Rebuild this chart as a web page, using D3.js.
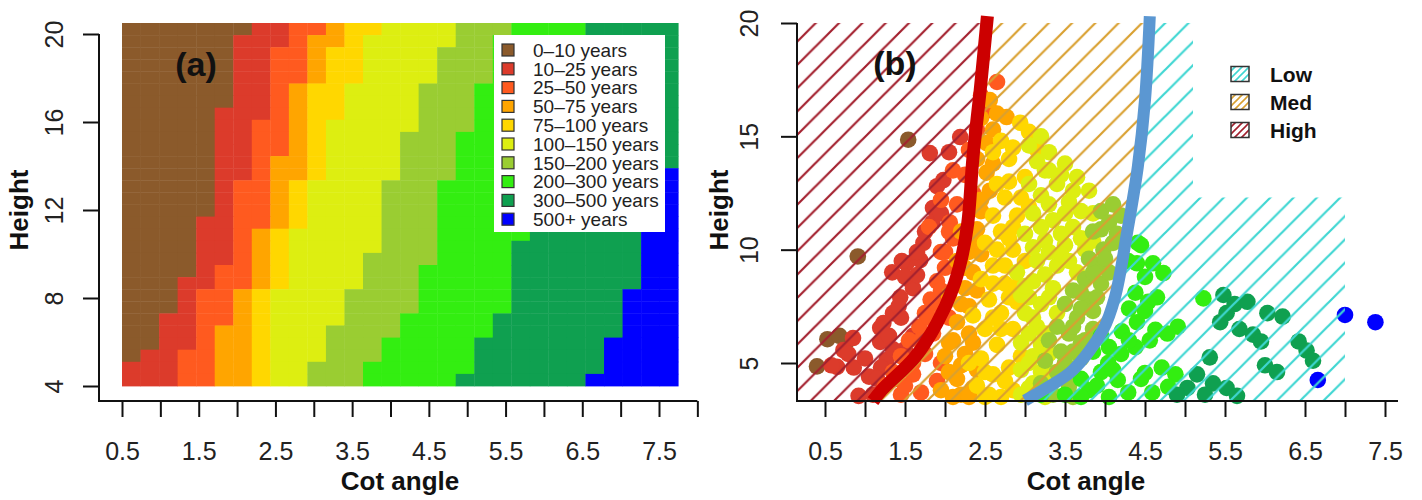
<!DOCTYPE html>
<html><head><meta charset="utf-8">
<script src="https://cdn.jsdelivr.net/npm/d3@7"></script>
<style>
body{margin:0;background:#fff}
text{font-family:"Liberation Sans",Arial,Helvetica,sans-serif}
</style>
</head><body>
<svg id="chart" width="1422" height="500"></svg>
<script>
// ---------- DATA ----------
const categories = ["0\u201310 years","10\u201325 years","25\u201350 years","50\u201375 years","75\u2013100 years",
  "100\u2013150 years","150\u2013200 years","200\u2013300 years","300\u2013500 years","500+ years"];
const catColors = ["#8B5A2B","#DC3B2B","#FF5A1F","#FFA500","#FFD700","#DDEE11","#9ACD32","#33EE11","#0FA050","#0000FF"];

// panel (a): raster 30 x 30 cells, cot 0.5-7.75, height 4-20.5
const rasterCot = [0.5, 7.75];
const rasterHeight = [4, 20.5];
// column index where the next age class begins, for each row (top row first)
const end0to10   = [7,6,6,6,6,6,6,5,5,5,5,5,5,5,5,5,4,4,4,4,4,3,3,3,2,2,2,1,0,0];
const end10to25  = [9,9,8,8,8,8,8,8,7,7,7,7,7,6,6,6,6,6,6,6,5,5,4,4,4,4,4,3,3,3];
const end25to50  = [11,10,10,10,10,9,9,9,9,9,9,8,8,8,8,8,8,7,7,7,7,7,6,6,6,5,5,5,5,5];
const end50to75  = [12,12,11,11,11,10,10,10,10,10,10,10,10,9,9,9,9,8,8,8,8,8,7,7,7,7,7,7,7,7];
const end75to100 = [14,13,13,13,13,12,12,12,11,11,11,11,11,10,10,10,10,9,9,9,9,9,8,8,8,8,8,8,8,8];
const end100to150= [18,18,17,17,17,16,16,16,16,15,15,15,15,14,14,14,14,14,14,13,13,13,12,12,12,11,11,11,10,10];
const end150to200= [21,20,20,20,20,19,19,19,19,18,18,18,18,17,17,17,17,17,17,17,16,16,16,16,15,15,14,14,13,13];
const end200to300= [25,25,25,24,24,24,24,24,23,23,23,23,23,22,22,22,22,22,21,21,21,21,21,21,20,20,19,19,19,18];
const end300to500= [30,30,30,30,30,30,30,30,30,30,30,30,28,28,28,28,28,28,28,28,28,28,27,27,27,27,26,26,26,25];

const xTicksA = [0.5,1,1.5,2,2.5,3,3.5,4,4.5,5,5.5,6,6.5,7,7.5,8];
const xTicksB = [0.5,1,1.5,2,2.5,3,3.5,4,4.5,5,5.5,6,6.5,7,7.5];
const xLabels = [0.5,1.5,2.5,3.5,4.5,5.5,6.5,7.5];
const yTicksA = [4,8,12,16,20];
const yTicksB = [5,10,15,20];

// panel (b): observed points [cot, height] per age class
const pts0 = [[0.91,9.7],[1.54,14.85],[0.53,6.05],[0.68,6.2],[0.76,5.9],[0.4,4.85]];
const pts1 = [[1.81,14.26],[1.98,13.07],[2.19,14.97],[1.85,11.84],[1.84,11.18],[1.73,10.3],[1.52,9.4],[1.34,9.0],[1.46,9.5],[1.56,8.66],[1.6,8.3],[1.69,9.54],[1.65,8.88],[1.44,7.9],[1.35,7.2],[1.42,7.5],[1.23,6.76],[1.19,6.55],[1.19,5.93],[1.27,5.13],[0.85,6.1],[0.73,5.57],[0.79,5.4],[0.65,4.83],[0.86,4.8],[0.58,4.9],[0.92,3.55],[1.05,4.4],[1.1,3.6],[1.6,6.2],[1.5,5.6],[1.0,5.2],[1.38,4.3],
  [1.5,8.8],[1.45,7.0],[1.3,6.2],[1.35,5.6],[1.2,4.8],[1.15,4.3],[1.65,9.9],[1.75,10.8],[1.9,12.8],[1.95,11.6],[2.05,14.3]];
const pts2 = [[2.65,17.4],[2.56,16.16],[2.45,16.8],[2.4,15.3],[2.3,14.4],[2.25,13.3],[2.35,12.5],[2.15,12.0],[2.06,11.2],[2.1,10.5],[1.95,9.9],[2.0,9.2],[1.9,8.6],[1.82,7.8],[1.75,7.2],[1.68,6.6],[1.55,6.0],[1.45,5.3],[1.35,4.6],[1.25,4.0],[1.6,4.5],[1.75,5.4],[1.85,6.3],[1.45,3.6],[1.7,3.7],[1.95,5.0],[2.05,7.0],[1.9,4.2],[1.8,11.0],[1.95,12.2],
  [1.5,4.0],[1.6,5.0],[1.7,6.0],[1.8,7.0],[1.9,7.6],[1.95,8.2],[2.0,9.9],[2.05,10.8],[2.1,13.5]];
const pts3 = [[2.56,16.6],[2.77,15.85],[2.6,15.3],[2.52,14.7],[2.4,14.0],[2.52,13.4],[2.56,12.6],[2.45,11.7],[2.4,10.9],[2.3,9.9],[2.35,9.0],[2.25,8.3],[2.05,8.0],[2.2,7.6],[2.15,6.8],[2.1,6.0],[2.3,6.3],[2.25,5.4],[2.0,5.3],[2.05,4.6],[2.15,4.3],[1.95,3.8],[2.2,3.6],[2.35,3.9],[2.4,4.7],[2.2,10.8],[2.15,9.5],
  [2.1,3.5],[2.3,3.5],[2.05,5.9],[2.2,4.9],[2.35,5.9],[2.3,7.5],[2.4,8.2],[2.25,9.2],[2.45,9.8],[2.35,10.4],[2.45,12.2],[2.6,13.8],[2.45,15.8],[2.65,16.0]];
const pts4 = [[2.94,15.6],[2.7,14.8],[3.15,14.4],[2.8,14.0],[3.0,13.2],[2.65,12.9],[2.75,12.3],[2.9,11.5],[2.7,10.8],[2.5,10.3],[2.85,10.0],[2.6,9.3],[2.45,8.7],[2.75,8.5],[2.55,7.8],[2.7,7.2],[2.35,7.1],[2.5,6.5],[2.85,6.5],[2.65,5.8],[2.45,5.2],[2.3,5.0],[2.8,4.8],[2.6,4.5],[2.4,4.0],[2.55,3.6],[2.85,3.8],[2.6,11.5],[2.95,12.3],[3.0,9.5],[2.9,7.7],
  [2.5,3.5],[2.7,3.5],[2.75,4.2],[2.5,4.6],[2.95,5.3],[2.7,6.5],[2.6,7.0],[2.8,7.9],[2.6,8.5],[2.9,8.4],[2.75,9.3],[2.65,10.0],[2.8,10.5],[2.85,11.0],[3.05,11.9],[2.8,13.0],[2.85,14.5],[3.05,15.2],[2.6,14.3]];
const pts5 = [[3.3,14.3],[3.05,14.6],[3.5,13.8],[3.65,13.2],[3.4,12.9],[3.2,12.4],[3.8,12.6],[3.55,12.1],[3.85,11.6],[3.1,11.6],[3.35,11.3],[3.6,11.0],[3.0,10.7],[3.25,10.4],[3.5,10.2],[3.75,10.0],[3.15,9.5],[3.4,9.3],[3.65,9.0],[2.9,9.0],[3.1,8.6],[3.35,8.3],[2.95,8.0],[3.2,7.6],[3.0,7.2],[3.15,6.6],[2.95,5.9],[3.1,5.3],[2.95,4.7],[3.1,4.1],[2.95,3.6],[3.25,3.5],[3.3,4.6],[3.2,5.8],[3.4,7.2],[3.05,12.9],[3.25,13.5],
  [3.05,3.9],[3.2,4.6],[3.05,5.0],[3.3,5.4],[3.05,6.3],[3.25,6.3],[3.1,7.0],[3.3,7.9],[3.05,7.9],[3.25,8.9],[3.0,8.4],[3.45,9.8],[3.3,9.9],[3.1,10.1],[3.45,10.7],[3.7,10.5],[3.2,11.0],[3.5,11.6],[3.7,11.7],[3.3,12.0],[3.6,12.6],[3.45,13.3],[3.3,13.5],[3.15,13.9],[3.2,15.0],[3.55,9.5],[3.85,10.4]];
const pts6 = [[3.95,11.7],[4.05,11.2],[3.85,10.8],[4.15,10.7],[3.98,10.0],[3.9,9.3],[3.75,8.7],[3.95,8.5],[3.6,8.2],[3.8,7.8],[3.5,7.6],[3.65,7.0],[3.4,6.6],[3.55,6.3],[3.3,6.0],[3.45,5.5],[3.25,5.1],[3.4,4.6],[3.2,4.1],[3.35,3.6],[3.55,4.0],[3.7,5.2],[3.6,3.5],[3.85,6.5],[4.05,9.0],[3.7,5.9],
  [3.5,5.0],[3.6,5.5],[3.75,6.0],[3.6,6.6],[3.7,7.4],[3.85,7.3],[3.9,7.9],[3.7,8.1],[3.85,9.0],[4.0,9.6],[3.8,9.6],[4.1,10.3],[3.95,10.9],[4.2,11.5],[4.1,12.0]];
const pts7 = [[4.41,10.3],[4.29,9.5],[4.4,9.4],[4.73,8.97],[4.5,8.8],[4.38,8.1],[4.54,7.7],[5.23,7.85],[4.21,6.4],[4.63,6.46],[4.91,6.6],[4.78,6.3],[4.38,5.7],[4.56,6.0],[4.04,5.0],[4.5,4.56],[4.71,4.8],[4.88,4.5],[4.16,4.25],[4.29,3.7],[4.59,3.7],[4.79,3.95],[3.85,5.5],[3.95,4.6],[3.8,3.8],[4.05,3.5],[3.7,4.3],[3.95,6.2],[3.2,3.6],[4.45,4.3],
  [3.5,3.6],[3.7,3.5],[3.9,4.0],[4.1,4.7],[4.2,5.4],[4.3,6.0],[4.05,5.7],[4.4,6.8],[4.3,7.4],[4.5,7.3],[4.65,7.9],[4.6,9.4],[4.45,10.2]];
const pts8 = [[5.48,8.0],[5.62,7.6],[5.78,7.7],[5.52,7.2],[6.03,7.2],[6.22,7.05],[5.44,6.8],[5.68,6.5],[5.85,6.25],[5.95,5.95],[5.31,5.25],[5.15,4.5],[5.03,3.9],[4.9,3.6],[5.35,4.1],[5.52,3.9],[5.65,3.55],[5.25,3.6],[6.0,4.9],[6.15,4.6],[6.42,5.95],[6.52,5.55],[6.6,5.1]];
const pts9 = [[7.0,7.12],[7.38,6.8],[6.66,4.25]];

// risk boundaries [cot, height]
const highMedCurve = [[1.10,3.32],[1.21,3.81],[1.625,5.26],[1.90,6.76],[2.09,8.22],[2.21,9.68],[2.285,11.18],[2.35,14.09],[2.44,17.04],[2.53,20.3]];
const medLowCurve  = [[3.0,3.35],[3.29,3.94],[3.6,4.69],[3.975,6.46],[4.125,7.91],[4.275,10.73],[4.41,13.65],[4.5,16.6],[4.56,20.3]];
const lowOuterEdge = [[5.1,20],[5.1,12.3],[7.0,12.3],[7.0,3.32]];
const riskLabels = ["Low","Med","High"];
const riskColors = ["#3FD6D2","#D9A030","#A3202E"];

// ---------- DRAW ----------
const svg = d3.select("#chart");
const defs = svg.append("defs");
const font = "'Liberation Sans',Arial,sans-serif";

function hatch(id, color, s, w){
  const p = defs.append("pattern").attr("id",id).attr("patternUnits","userSpaceOnUse")
    .attr("width",s).attr("height",s);
  p.append("path").attr("d",`M0,${s} L${s},0 M${-2},${2} L${2},${-2} M${s-2},${s+2} L${s+2},${s-2}`)
    .attr("stroke",color).attr("stroke-width",w).attr("fill","none");
}
riskLabels.forEach((l,i)=>{ hatch("h"+l, riskColors[i], 23.3, 2.2); hatch("hs"+l, riskColors[i], 7, 1.6); });

// ===== Panel (a) =====
const xA = d3.scaleLinear().domain([0.5,7.5]).range([122,659]);
const yA = d3.scaleLinear().domain([4,20]).range([386,34]);
const bandEnds = [end0to10,end10to25,end25to50,end50to75,end75to100,end100to150,end150to200,end200to300,end300to500];
const nCols = 30, nRows = 30;
const cw = (rasterCot[1]-rasterCot[0])/nCols, rh = (rasterHeight[1]-rasterHeight[0])/nRows;
const cells = [];
for (let r=0;r<nRows;r++) for (let c=0;c<nCols;c++){
  const cat = bandEnds.filter(b=>b[r]<=c).length;
  cells.push({r,c,cat});
}
const gA = svg.append("g");
gA.selectAll("rect.cell").data(cells).join("rect").attr("class","cell")
  .attr("x",d=>xA(rasterCot[0]+d.c*cw))
  .attr("y",d=>yA(rasterHeight[1]-d.r*rh))
  .attr("width",d=>xA(rasterCot[0]+(d.c+1)*cw)-xA(rasterCot[0]+d.c*cw)+0.4)
  .attr("height",d=>yA(rasterHeight[1]-(d.r+1)*rh)-yA(rasterHeight[1]-d.r*rh)+0.4)
  .attr("fill",d=>catColors[d.cat]);

function styleAxis(g){
  g.select(".domain").remove();
  g.selectAll(".tick line").attr("stroke","#111").attr("stroke-width",2);
  g.selectAll(".tick text").attr("fill","#222").style("font-size","25px").style("font-family",font);
}
const axA = svg.append("g").attr("transform","translate(0,401)")
  .call(d3.axisBottom(xA).tickValues(xTicksA).tickSize(16)
    .tickFormat(d=> xLabels.includes(d)? d3.format(".1f")(d):""));
styleAxis(axA);
axA.selectAll(".tick text").attr("y",59).attr("dy",0);
const ayA = svg.append("g").attr("transform","translate(99,0)")
  .call(d3.axisLeft(yA).tickValues(yTicksA).tickSize(16).tickFormat(d3.format("d")));
styleAxis(ayA);
ayA.selectAll(".tick text").attr("x",0).attr("y",0).attr("dy","0.36em")
  .attr("transform","translate(-45.5,0) rotate(-90)").style("text-anchor","middle");
svg.append("path").attr("d",`M99,${yA(20)} L99,401 L${xA(8)},401`).attr("fill","none").attr("stroke","#111").attr("stroke-width",2);

svg.append("text").attr("x",400).attr("y",490).attr("text-anchor","middle")
  .style("font-size","26px").style("font-weight","bold").attr("fill","#111").text("Cot angle");
svg.append("text").attr("transform","translate(28,210) rotate(-90)").attr("text-anchor","middle")
  .style("font-size","26px").style("font-weight","bold").attr("fill","#111").text("Height");
svg.append("text").attr("x",196).attr("y",64).attr("dy","0.36em").attr("text-anchor","middle")
  .style("font-size","34px").style("font-weight","bold").attr("fill","#111").text("(a)");

// legend (a)
const legA = svg.append("g");
legA.append("rect").attr("x",494).attr("y",35).attr("width",171).attr("height",197).attr("fill","#fff");
categories.forEach((c,i)=>{
  const cy = 50 + i*18.8;
  legA.append("rect").attr("x",502).attr("y",cy-6).attr("width",12).attr("height",12)
    .attr("fill",catColors[i]).attr("stroke","#333").attr("stroke-width",1.2);
  legA.append("text").attr("x",533).attr("y",cy).attr("dy","0.36em")
    .style("font-size","19px").attr("fill","#222").text(c);
});

// ===== Panel (b) =====
const xB = d3.scaleLinear().domain([0.5,7.5]).range([825,1385]);
const yB = d3.scaleLinear().domain([5,20]).range([363,23]);
const gB = svg.append("g");
const allPts = [pts0,pts1,pts2,pts3,pts4,pts5,pts6,pts7,pts8,pts9];
const clip = defs.append("clipPath").attr("id","plotB");
clip.append("rect").attr("x",797).attr("y",yB(20)).attr("width",610).attr("height",401-yB(20));
const ptsG = gB.append("g");
allPts.forEach((arr,k)=>{
  ptsG.append("g").selectAll("circle").data(arr).join("circle")
    .attr("cx",d=>xB(d[0])).attr("cy",d=>yB(d[1])).attr("r",8.3).attr("fill",catColors[k]);
});

const line = d3.line().x(d=>xB(d[0])).y(d=>yB(d[1])).curve(d3.curveCatmullRom.alpha(0.5));
const redPath = line(highMedCurve);
const bluePath = line(medLowCurve);
const blueRev = line(medLowCurve.slice().reverse());
const x0 = xB(0.15), yTop = yB(20.4), yBot = 401;
const highD = redPath + `L${x0},${yTop}L${x0},${yBot}Z`;
const medD = redPath + blueRev.replace(/^M/,"L") + "Z";
const lowD = bluePath + lowOuterEdge.map(p=>`L${xB(p[0])},${yB(p[1])}`).join("") + "Z";
const hatchG = gB.append("g").attr("clip-path","url(#plotB)");
hatchG.append("path").attr("d",highD).attr("fill","url(#hHigh)");
hatchG.append("path").attr("d",medD).attr("fill","url(#hMed)");
hatchG.append("path").attr("d",lowD).attr("fill","url(#hLow)");

gB.append("path").attr("d",redPath).attr("fill","none").attr("stroke","#CC0000").attr("stroke-width",13);
gB.append("path").attr("d",bluePath).attr("fill","none").attr("stroke","#5B97D2").attr("stroke-width",12);

const axB = svg.append("g").attr("transform","translate(0,401)")
  .call(d3.axisBottom(xB).tickValues(xTicksB).tickSize(16)
    .tickFormat(d=> xLabels.includes(d)? d3.format(".1f")(d):""));
styleAxis(axB);
axB.selectAll(".tick text").attr("y",59).attr("dy",0);
const ayB = svg.append("g").attr("transform","translate(797,0)")
  .call(d3.axisLeft(yB).tickValues(yTicksB).tickSize(16).tickFormat(d3.format("d")));
styleAxis(ayB);
ayB.selectAll(".tick text").attr("x",0).attr("y",0).attr("dy","0.36em")
  .attr("transform","translate(-48.5,0) rotate(-90)").style("text-anchor","middle");
svg.append("path").attr("d",`M797,${yB(20)} L797,401 L1398,401`).attr("fill","none").attr("stroke","#111").attr("stroke-width",2);

svg.append("text").attr("x",1086).attr("y",490).attr("text-anchor","middle")
  .style("font-size","26px").style("font-weight","bold").attr("fill","#111").text("Cot angle");
svg.append("text").attr("transform","translate(728,210) rotate(-90)").attr("text-anchor","middle")
  .style("font-size","26px").style("font-weight","bold").attr("fill","#111").text("Height");
svg.append("text").attr("x",895).attr("y",63).attr("dy","0.36em").attr("text-anchor","middle")
  .style("font-size","34px").style("font-weight","bold").attr("fill","#111").text("(b)");

// legend (b)
riskLabels.forEach((l,i)=>{
  const cy = 74 + i*28;
  svg.append("rect").attr("x",1231).attr("y",cy-7.5).attr("width",18).attr("height",15)
    .attr("fill","url(#hs"+l+")").attr("stroke","#333").attr("stroke-width",1.5);
  svg.append("text").attr("x",1270).attr("y",cy).attr("dy","0.36em")
    .style("font-size","21px").style("font-weight","bold").attr("fill","#111").text(l);
});
</script>
</body></html>
